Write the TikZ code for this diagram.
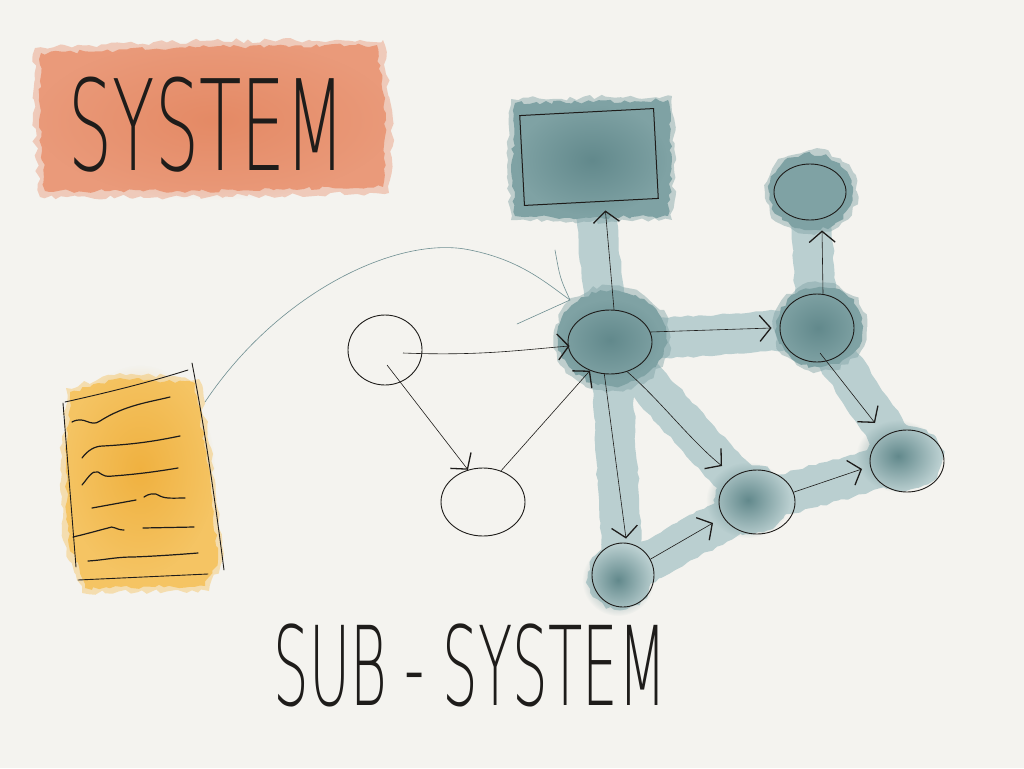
\documentclass[tikz,border=0pt]{standalone}
\usepackage{fontspec}
\usetikzlibrary{shapes.geometric,arrows.meta,decorations.pathmorphing,fadings,calc}
\newfontfamily\handfont{DejaVu Sans ExtraLight}
\definecolor{paper}{HTML}{F4F3EF}
\definecolor{orangeL}{HTML}{EA9A7A}
\definecolor{orangeD}{HTML}{E2835C}
\definecolor{yellowL}{HTML}{F5C463}
\definecolor{yellowD}{HTML}{EFAE3A}
\definecolor{tealD}{HTML}{7FA2A4}
\definecolor{tealDD}{HTML}{62898C}
\definecolor{tealL}{HTML}{BACFD0}
\definecolor{curvecol}{HTML}{6F8F92}
\definecolor{ink}{HTML}{1E1C1A}
\tikzfading[name=softc, inner color=transparent!0, outer color=transparent!100]
\pgfdeclarelayer{back}
\pgfdeclarelayer{wash}
\pgfsetlayers{back,wash,main}
\begin{document}
\begin{tikzpicture}[x=1pt,y=-1pt,
  rough/.style={decorate, decoration={random steps, segment length=5pt, amplitude=2pt}},
  halo/.style={opacity=0.45, decorate, decoration={random steps, segment length=6pt, amplitude=2.5pt}},
  band/.style={draw=tealL, line width=40pt, decorate, decoration={random steps, segment length=6pt, amplitude=1.2pt}},
  circ/.style={ellipse, draw=ink, line width=0.9pt, inner sep=0pt},
  edge/.style={draw=ink, line width=0.6pt, -{Straight Barb[length=11pt,width=26pt,line width=1.3pt]}},
  docline/.style={draw=ink, line width=0.9pt, line cap=round},
  wave/.style={draw=ink, line width=1.2pt, line cap=round},
  curvearrow/.style={draw=curvecol, line width=0.6pt, line cap=round},
  hand/.style={text=ink, inner sep=0pt}
]
\pgfmathsetseed{7}
\useasboundingbox (0,0) rectangle (1024,768);

% ---------- nodes ----------
\node[circ, minimum width=84pt, minimum height=64pt] (m) at (610,342) {};
\node[draw=ink, line width=1pt, rectangle, minimum width=134pt, minimum height=90pt, rotate=3, inner sep=0pt] (r) at (589,157) {};
\node[circ, minimum width=72pt, minimum height=56pt] (tr) at (810,192) {};
\node[circ, minimum width=74pt, minimum height=68pt] (rm) at (817,328) {};
\node[circ, minimum width=74pt, minimum height=62pt] (fr) at (907,461) {};
\node[circ, minimum width=76pt, minimum height=64pt] (mb) at (757,502) {};
\node[circ, minimum width=62pt, minimum height=64pt] (b) at (623,575) {};
\node[circ, minimum width=74pt, minimum height=70pt] (c1) at (385,350) {};
\node[circ, minimum width=84pt, minimum height=68pt] (c2) at (483,502) {};
\coordinate (doc) at (143,475);
\coordinate (docR) at (205,402);
\coordinate (tipA) at (570,300);

\node[hand, font=\handfont\fontsize{126}{126}\selectfont, xscale=0.55] (sys) at (207,125) {SYSTEM};
\node[hand, font=\handfont\fontsize{110}{110}\selectfont, xscale=0.51] (sub) at (470,665) {SUB - SYSTEM};

% ---------- washes ----------
\begin{pgfonlayer}{back}
  \fill[paper] (0,0) rectangle (1024,768);
  \fill[orangeL, halo] (35,48) -- (200,41) -- (383,40) -- (393,120) -- (389,193) -- (200,197) -- (40,197) -- (33,120) -- cycle;
  \fill[orangeL, rough] (41,53) -- (200,47) -- (377,45) -- (386,120) -- (383,187) -- (200,191) -- (45,191) -- (39,120) -- cycle;
  \fill[orangeD, opacity=0.7, path fading=softc] (215,120) ellipse (180 and 80);
  \fill[yellowL, halo] (66,388) -- (120,373) -- (199,379) -- (215,480) -- (223,560) -- (209,591) -- (82,593) -- (63,540) -- (61,460) -- cycle;
  \fill[yellowL, rough] (70,392) -- (120,378) -- (195,383) -- (210,480) -- (218,560) -- (205,586) -- (85,588) -- (68,540) -- (66,460) -- cycle;
  \fill[yellowD, opacity=0.85, path fading=softc] (140,470) ellipse (75 and 105);
  \draw[band] (m.center) -- (r.center);
  \draw[band] (m.center) -- (rm.center);
  \draw[band] (rm.center) -- (tr.center);
  \draw[band] (rm.center) -- (fr.center);
  \draw[band] (m.center) -- (mb.center);
  \draw[band] (mb.center) -- (fr.center);
  \draw[band] (m.center) -- (b.center);
  \draw[band] (b.center) -- (mb.center);
\end{pgfonlayer}
\begin{pgfonlayer}{wash}
  \fill[tealD, halo] (511,99) -- (672,96) -- (676,160) -- (672,220) -- (590,222) -- (511,220) -- (508,160) -- cycle;
  \fill[tealD, rough] (515,103) -- (668,100) -- (672,160) -- (668,216) -- (590,218) -- (515,216) -- (512,160) -- cycle;
  \fill[tealDD, path fading=softc] (592,160) ellipse (75 and 55);
  \fill[tealD, halo] (612,338) ellipse (58 and 52);
  \fill[tealD, rough] (612,338) ellipse (54 and 48);
  \fill[tealDD, path fading=softc] (610,340) ellipse (50 and 40);
  \fill[tealD, halo] (811,192) ellipse (46 and 42);
  \fill[tealD, rough] (811,192) ellipse (42 and 38);
  \fill[tealD, halo] (820,327) ellipse (47 and 44);
  \fill[tealD, rough] (820,327) ellipse (43 and 40);
  \fill[tealDD, path fading=softc] (818,328) ellipse (40 and 36);
  \fill[tealL, rough] (905,458) ellipse (38 and 33);
  \fill[tealDD, path fading=softc] (898,456) ellipse (42 and 36);
  \fill[tealL, rough] (752,500) ellipse (38 and 34);
  \fill[tealDD, path fading=softc] (748,500) ellipse (42 and 38);
  \fill[tealL, rough] (620,578) ellipse (32 and 32);
  \fill[tealDD, path fading=softc] (618,580) ellipse (36 and 36);
\end{pgfonlayer}

% ---------- document ----------
\draw[docline] (65,402) .. controls (110,392) and (150,382) .. (188,370);
\draw[docline] (63,403) -- (76,567);
\draw[docline] (192,363) .. controls (205,430) and (215,500) .. (224,570);
\draw[docline] (78,580) -- (208,574);
\draw[wave] (72,422) .. controls (85,415) and (90,428) .. (100,421) .. controls (125,405) and (150,402) .. (170,397);
\draw[wave] (82,458) .. controls (88,450) and (95,446) .. (103,446) .. controls (140,444) and (160,440) .. (180,436);
\draw[wave] (82,485) .. controls (88,478) and (92,470) .. (98,472) .. controls (104,476) and (106,477) .. (113,476) .. controls (140,474) and (160,471) .. (178,468);
\draw[wave] (92,508) -- (136,500);
\draw[wave] (144,497) .. controls (148,494) and (155,492) .. (160,496) .. controls (166,499) and (175,498) .. (185,498);
\draw[wave] (73,537) .. controls (90,533) and (100,530) .. (108,528) .. controls (113,525) and (116,530) .. (124,530);
\draw[wave] (143,528) -- (194,527);
\draw[wave] (88,561) .. controls (105,560) and (115,557) .. (133,557) .. controls (160,556) and (185,554) .. (198,553);

% ---------- curved arrow ----------
\draw[curvearrow] (docR) .. controls (280,290) and (400,235) .. (470,250) .. controls (520,260) and (545,282) .. (tipA);
\draw[curvearrow] ($(tipA)+(-15,-50)$) .. controls ($(tipA)+(-10,-22)$) .. (tipA) -- ($(tipA)+(-53,24)$);

% ---------- edges ----------
\draw[edge] ($(c1.center)+(18,3)$) .. controls (480,356) and (520,350) .. ($(m.west)+(2,4)$);
\draw[edge] ($(c1.center)+(2,15)$) -- (c2.115);
\draw[edge] (c2.60) -- (m.235);
\draw[edge] ($(m.north)+(4,0)$) -- ($(r.south)+(14,8)$);
\draw[edge] ($(m.east)+(-2,-10)$) -- ($(rm.west)+(-8,0)$);
\draw[edge] ($(rm.north)+(6,0)$) -- ($(tr.south)+(12,10)$);
\draw[edge] ($(rm.center)+(3,25)$) -- ($(fr.center)+(-32,-38)$);
\draw[edge] (m.-60) .. controls (660,400) and (690,440) .. ($(mb.center)+(-35,-36)$);
\draw[edge] (m.-100) -- ($(b.north)+(3,-4)$);
\draw[edge] (b.30) -- ($(mb.center)+(-44,21)$);
\draw[edge] (mb.15) -- ($(fr.center)+(-45,8)$);
\end{tikzpicture}
\end{document}
